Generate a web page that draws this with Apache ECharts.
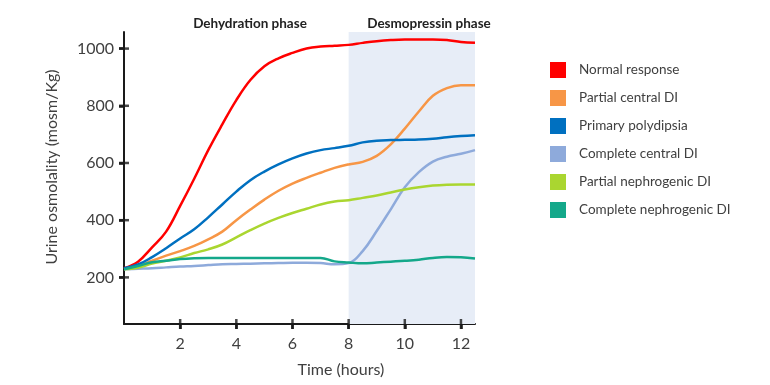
<!DOCTYPE html>
<html>
<head>
<meta charset="utf-8">
<script src="https://cdn.jsdelivr.net/npm/echarts@6/dist/echarts.min.js"></script>
<style>html,body{margin:0;padding:0;background:#fff}#c{width:770px;height:385px}</style>
</head>
<body>
<div id="c"></div>
<script>
const hours = [0,0.5,1,1.5,2,2.5,3,3.5,4,4.5,5,5.5,6,6.5,7,7.5,8,8.5,9,9.5,10,10.5,11,11.5,12,12.5];
const normalResponse = [232,255,305,360,450,545,645,735,820,890,938,966,985,1000,1007,1010,1013,1020,1026,1030,1032,1032,1032,1030,1023,1020];
const partialCentralDI = [230,240,258,276,292,310,333,360,400,437,472,503,528,548,566,583,595,604,625,665,720,780,835,862,872,872];
const primaryPolydipsia = [232,245,271,302,336,368,410,455,500,540,570,595,616,633,645,652,660,672,678,680,681,682,685,690,694,697];
const completeCentralDI = [228,230,232,235,238,240,243,246,247,248,249,250,251,251,250,246,250,292,362,438,515,568,605,622,632,645];
const partialNephrogenicDI = [228,234,248,258,270,285,298,315,340,365,388,408,425,440,455,465,470,478,486,497,507,515,521,524,525,525];
const completeNephrogenicDI = [228,240,253,258,264,267,268,268,268,268,268,268,268,268,268,256,252,249,252,255,258,262,268,271,270,266];
const seriesNames = ['Normal response','Partial central DI','Primary polydipsia','Complete central DI','Partial nephrogenic DI','Complete nephrogenic DI'];
const seriesColors = ['#ff0000','#f79646','#0070c0','#8eaadb','#aad630','#14a88a'];
const xTicks = [2,4,6,8,10,12];
const yTicks = [200,400,600,800,1000];
const phaseNames = ['Dehydration phase','Desmopressin phase'];
const desmoStart = 8, xMin = 0, xMax = 12.5, yMin = 37, yMax = 1058;

const allValues = [normalResponse,partialCentralDI,primaryPolydipsia,completeCentralDI,partialNephrogenicDI,completeNephrogenicDI];
const FONT = 'Lato, "Open Sans", sans-serif';
const AXIS_COLOR = '#1a1a1a';

const chart = echarts.init(document.getElementById('c'));
const series = allValues.map((vals, i) => ({
  name: seriesNames[i],
  type: 'line',
  smooth: 0.4,
  showSymbol: false,
  symbol: 'none',
  lineStyle: { width: 2.5, color: seriesColors[i] },
  itemStyle: { color: seriesColors[i] },
  data: hours.map((h, k) => [h, vals[k]])
}));
series[0].markArea = {
  silent: true,
  itemStyle: { color: '#e7edf7' },
  data: [[{ xAxis: desmoStart }, { xAxis: xMax }]]
};

// crossing tick marks, placed through the axes' own scales
series.push({
  name: 'xticks', type: 'scatter', clip: false,
  symbol: 'rect', symbolSize: [2.5, 10],
  itemStyle: { color: AXIS_COLOR },
  data: xTicks.map(v => [v, yMin])
});
series.push({
  name: 'yticks', type: 'scatter', clip: false,
  symbol: 'rect', symbolSize: [10, 2.5],
  itemStyle: { color: AXIS_COLOR },
  data: yTicks.map(v => [xMin, v])
});

const axisCommon = {
  axisLine: { show: true, lineStyle: { color: AXIS_COLOR, width: 2 } },
  splitLine: { show: false }
};

chart.setOption({
  animation: false,
  grid: { left: 124, right: 295, top: 32, bottom: 61, containLabel: false },
  title: [
    { text: phaseNames[0], left: 245, top: 12, textAlign: 'center', textStyle: { fontFamily: FONT, fontSize: 13.5, fontWeight: 'bold', color: '#222' } },
    { text: phaseNames[1], left: 424, top: 12, textAlign: 'center', textStyle: { fontFamily: FONT, fontSize: 13.5, fontWeight: 'bold', color: '#222' } }
  ],
  legend: {
    orient: 'vertical', left: 550, top: 62, padding: 0,
    itemWidth: 16, itemHeight: 16, itemGap: 12,
    icon: 'rect',
    data: seriesNames,
    textStyle: { fontFamily: FONT, fontSize: 13.5, color: '#404040', padding: [0,0,0,8] }
  },
  xAxis: Object.assign({
    type: 'value', min: xMin, max: xMax,
    axisTick: { show: true, customValues: xTicks, length: 5, lineStyle: { color: AXIS_COLOR, width: 2.5 } },
    axisLabel: { customValues: xTicks, margin: 12, fontFamily: FONT, fontSize: 16, color: '#404040' }
  }, axisCommon),
  yAxis: Object.assign({
    type: 'value', min: yMin, max: yMax,
    axisTick: { show: true, customValues: yTicks, length: 5, lineStyle: { color: AXIS_COLOR, width: 2.5 } },
    axisLabel: { customValues: yTicks, margin: 10, fontFamily: FONT, fontSize: 16, color: '#404040', formatter: v => String(v) }
  }, axisCommon),
  graphic: [
    { type: 'text', x: 341, y: 370, style: { text: 'Time (hours)', fontFamily: FONT, fontSize: 16, fill: '#404040', align: 'center', verticalAlign: 'middle' } },
    { type: 'text', x: 52, y: 167, rotation: Math.PI/2, style: { text: 'Urine osmolality (mosm/Kg)', fontFamily: FONT, fontSize: 16, fill: '#404040', align: 'center', verticalAlign: 'middle' } }
  ],
  series: series
});
</script>
</body>
</html>
